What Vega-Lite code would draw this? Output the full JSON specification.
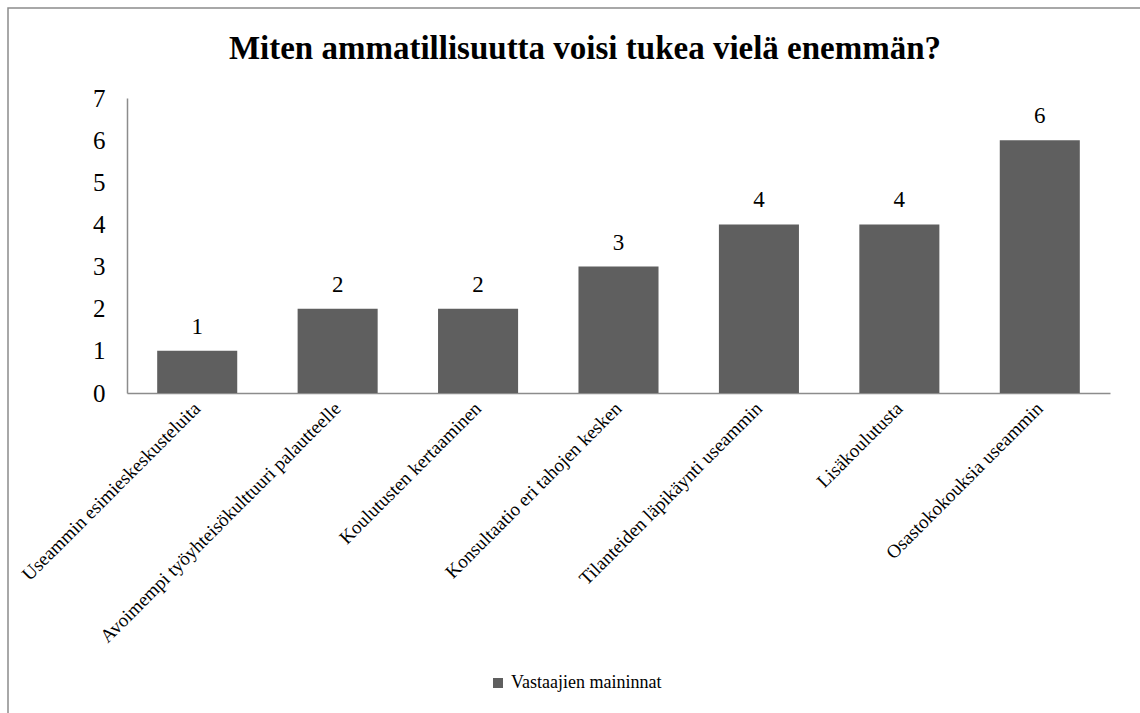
{
  "$schema": "https://vega.github.io/schema/vega-lite/v6.json",
  "autosize": "none",
  "width": 1134,
  "height": 707,
  "padding": {"left": 8, "top": 8, "right": -2, "bottom": -2},
  "background": "white",
  "title": {
    "text": "Miten ammatillisuutta voisi tukea vielä enemmän?",
    "font": "Liberation Serif, serif",
    "fontSize": 33,
    "fontWeight": "bold",
    "color": "black",
    "anchor": "middle",
    "frame": "group",
    "baseline": "alphabetic",
    "dx": 10,
    "offset": -84
  },
  "data": {
    "values": [
      {"kategoria": "Useammin esimieskeskusteluita", "maininnat": 1, "sarja": "Vastaajien maininnat"},
      {"kategoria": "Avoimempi työyhteisökulttuuri palautteelle", "maininnat": 2, "sarja": "Vastaajien maininnat"},
      {"kategoria": "Koulutusten kertaaminen", "maininnat": 2, "sarja": "Vastaajien maininnat"},
      {"kategoria": "Konsultaatio eri tahojen kesken", "maininnat": 3, "sarja": "Vastaajien maininnat"},
      {"kategoria": "Tilanteiden läpikäynti useammin", "maininnat": 4, "sarja": "Vastaajien maininnat"},
      {"kategoria": "Lisäkoulutusta", "maininnat": 4, "sarja": "Vastaajien maininnat"},
      {"kategoria": "Osastokokouksia useammin", "maininnat": 6, "sarja": "Vastaajien maininnat"}
    ]
  },
  "encoding": {
    "x": {
      "field": "kategoria",
      "type": "nominal",
      "sort": null,
      "scale": {"range": [119, 1102], "paddingInner": 0.43, "paddingOuter": 0.215},
      "axis": {
        "title": null,
        "offset": -322,
        "labelAngle": -45,
        "labelAlign": "right",
        "labelBaseline": "middle",
        "labelFont": "Liberation Serif, serif",
        "labelFontSize": 19,
        "labelColor": "black",
        "labelPadding": 12,
        "labelLimit": 0,
        "ticks": false,
        "domainColor": "#8c8c8c",
        "domainWidth": 1.5,
        "grid": false
      }
    },
    "y": {
      "field": "maininnat",
      "type": "quantitative",
      "scale": {"domain": [0, 7], "range": [385, 90]},
      "axis": {
        "title": null,
        "offset": -119,
        "values": [0, 1, 2, 3, 4, 5, 6, 7],
        "labelFont": "Liberation Serif, serif",
        "labelFontSize": 25,
        "labelColor": "black",
        "labelPadding": 22,
        "ticks": false,
        "grid": false,
        "domainColor": "#8c8c8c",
        "domainWidth": 1.5
      }
    }
  },
  "layer": [
    {
      "mark": {"type": "bar"},
      "encoding": {
        "color": {
          "field": "sarja",
          "type": "nominal",
          "scale": {"range": ["#5f5f5f"]},
          "legend": {
            "title": null,
            "orient": "none",
            "legendX": 481,
            "legendY": 666,
            "symbolType": "square",
            "symbolSize": 100,
            "symbolStrokeWidth": 0,
            "labelFont": "Liberation Serif, serif",
            "labelFontSize": 18,
            "labelColor": "black",
            "labelOffset": 4,
            "padding": 0
          }
        }
      }
    },
    {
      "mark": {
        "type": "text",
        "font": "Liberation Serif, serif",
        "fontSize": 23,
        "color": "black",
        "baseline": "alphabetic",
        "dy": -17
      },
      "encoding": {"text": {"field": "maininnat", "type": "quantitative"}}
    }
  ],
  "config": {"view": {"stroke": "#8c8c8c", "strokeWidth": 1.5}}
}
